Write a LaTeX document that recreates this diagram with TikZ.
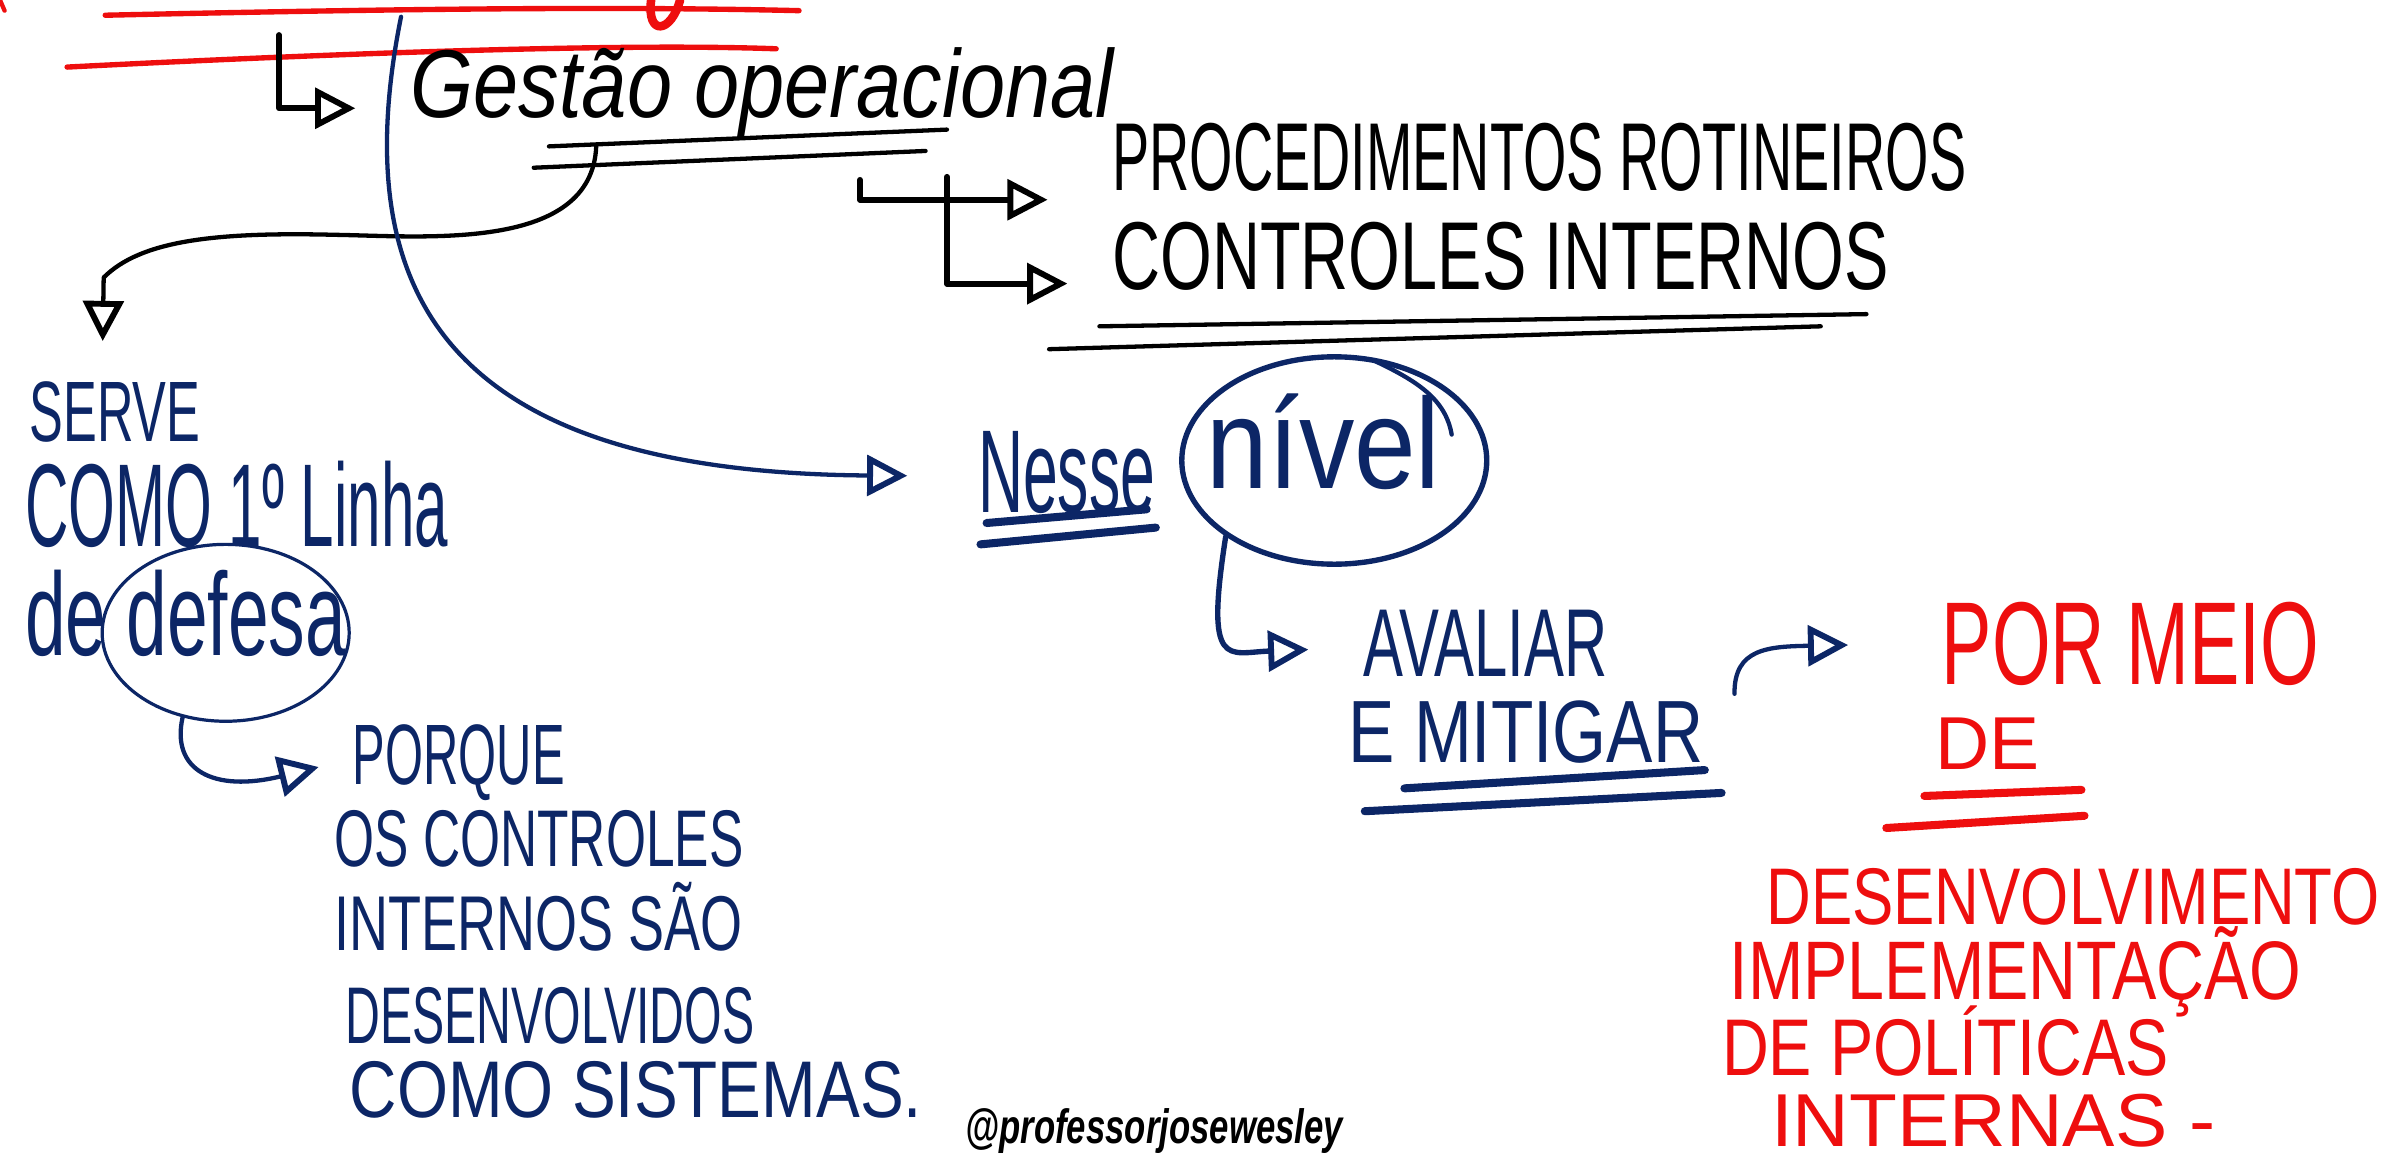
\documentclass[tikz,border=0pt]{standalone}
\usepackage{fontspec}
\setmainfont{Liberation Sans}
\usepackage{graphicx}
\usetikzlibrary{arrows.meta,calc,shapes.geometric}
\definecolor{pennavy}{RGB}{12,38,102}
\definecolor{penred}{RGB}{238,14,14}
\newcommand{\hw}[3]{{\fontsize{#1}{#1}\selectfont\scalebox{#2}[1]{#3}}}
\tikzset{
  ink/.style={line width=0.8pt, line cap=round, line join=round},
  blk/.style={ink, black},
  blu/.style={ink, pennavy},
  rd/.style={ink, penred},
  word/.style={inner sep=0pt, anchor=west},
  bar/.style={line width=1.5pt, line cap=round},
  tri/.tip={Triangle[open, length=7.5pt, width=7.5pt, line width=1.1pt]},
}
\begin{document}
\begin{tikzpicture}[x=0.1mm, y=-0.1mm]
  \fill[white] (0,0) rectangle (1568,759);
  \useasboundingbox (0,0) rectangle (1568,759);

  \draw[rd, line width=1pt] (69,10) .. controls (250,6) and (400,4) .. (524,7);
  \draw[rd, line width=1pt] (44,44) .. controls (200,36) and (400,28) .. (509,32);
  \draw[rd, line width=1.6pt] (427,0) .. controls (424,24) and (440,22) .. (446,0);
  \draw[rd] (0,0) -- (3,7);

  \node[word, blk] (gestao) at (268,61) {\hw{18}{0.84}{\itshape Gestão operacional}};
  \node[word, blk] (proc) at (728,103) {\hw{18}{0.578}{PROCEDIMENTOS ROTINEIROS}};
  \node[word, blk] (ctrl) at (728,168) {\hw{18}{0.69}{CONTROLES INTERNOS}};

  \node[word, blu] (serve) at (18,270) {\hw{16}{0.59}{SERVE}};
  \node[word, blu] (como) at (15,331) {\hw{22}{0.51}{COMO 1º Linha}};
  \node[word, blu] (dede) at (15,402) {\hw{22}{0.62}{de defesa}};
  \node[blu, draw, ellipse, line width=0.6pt, minimum width=1.62cm, minimum height=1.16cm] (dring) at (148,415) {};
  \node[word, blu] (porque) at (230,500) {\hw{16}{0.57}{PORQUE}};
  \node[word, blu] (osctrl) at (218,550) {\hw{15}{0.64}{OS CONTROLES}};
  \node[word, blu] (intsao) at (218,601) {\hw{14.5}{0.695}{INTERNOS SÃO}};
  \node[word, blu] (desenv) at (225,666) {\hw{15}{0.6}{DESENVOLVIDOS}};
  \node[word, blu] (sistemas) at (228,715) {\hw{15}{0.816}{COMO SISTEMAS.}};

  \node[word, blu] (nesse) at (640,310) {\hw{22}{0.53}{Nesse}};
  \node[word, blu] (nivel) at (790,290) {\hw{24}{0.86}{nível}};
  \node[blu, draw, ellipse, line width=1pt, minimum width=2cm, minimum height=1.36cm] (nring) at (875,302) {};
  \draw[blu] (900,236) .. controls (930,250) and (948,262) .. (952,285);
  \node[word, blu] (avaliar) at (893,422) {\hw{18}{0.62}{AVALIAR}};
  \node[word, blu] (emit) at (883,480) {\hw{16.5}{0.785}{E MITIGAR}};

  \node[word, rd] (pormeio) at (1272,422) {\hw{22}{0.64}{POR MEIO}};
  \node[word, rd] (de) at (1268,488) {\hw{14}{1}{DE}};
  \node[word, rd] (desenvolv) at (1157,588) {\hw{15}{0.77}{DESENVOLVIMENTO}};
  \node[word, rd] (implem) at (1133,637) {\hw{15.5}{0.8}{IMPLEMENTAÇÃO}};
  \node[word, rd] (politicas) at (1128,683) {\hw{15}{0.806}{DE POLÍTICAS}};
  \node[word, rd] (internas) at (1160,735) {\hw{14}{1.045}{INTERNAS -}};

  \node[inner sep=0pt] (tag) at (757,742) {\hw{9}{0.72}{\bfseries\itshape @professorjosewesley}};

  \draw[blk] (360,96) -- (621,85);
  \draw[blk] (350,110) -- (607,99);
  \draw[blk] (721,214) -- (1224,206);
  \draw[blk] (688,229) -- (1194,214);
  \draw[blu, bar] (647,343) -- (752,334);
  \draw[blu, bar] (643,357) -- (758,346);
  \draw[blu, bar] (921,517) -- (1118,505);
  \draw[blu, bar] (895,532) -- (1129,520);
  \draw[rd, bar] (1262,522) -- (1365,518);
  \draw[rd, bar] (1237,543) -- (1367,535);

  \coordinate (gtop) at (183,23);
  \coordinate (ptop) at (564,118);
  \coordinate (ctop) at (621,116);
  \coordinate (opline) at (391,96);
  \coordinate (btop) at (263,11);

  \draw[blk, line width=1.1pt, -{tri}] (gtop) |- ($(gestao.west)+(-35,10)$);
  \draw[blk, line width=1.1pt, -{tri}] (ptop) |- ($(proc.west)+(-41,28)$);
  \draw[blk, line width=1.1pt, -{tri}] (ctop) |- ($(ctrl.west)+(-28,18)$);
  \draw[blk, -{tri}] (opline) .. controls (388,165) and (280,155) .. (220,154)
    .. controls (140,152) and (92,158) .. (68,182) -- ($(serve.north)+(-8,-25)$);
  \draw[blu, -{tri}] (btop) .. controls (225,200) and (300,310) .. ($(nesse.west)+(-45,2)$);
  \draw[blu, -{tri}] (dring.243) .. controls (112,505) and (140,520) .. ($(porque.west)+(-21,3)$);
  \draw[blu, line width=1pt, -{tri}] (nring.215) .. controls (790,440) and (805,428) .. ($(avaliar.west)+(-35,4)$);
  \draw[blu, -{tri}] ($(emit.east)+(19,-25)$) .. controls (1137,425) and (1160,424) .. ($(pormeio.west)+(-60,1)$);
\end{tikzpicture}
\end{document}
